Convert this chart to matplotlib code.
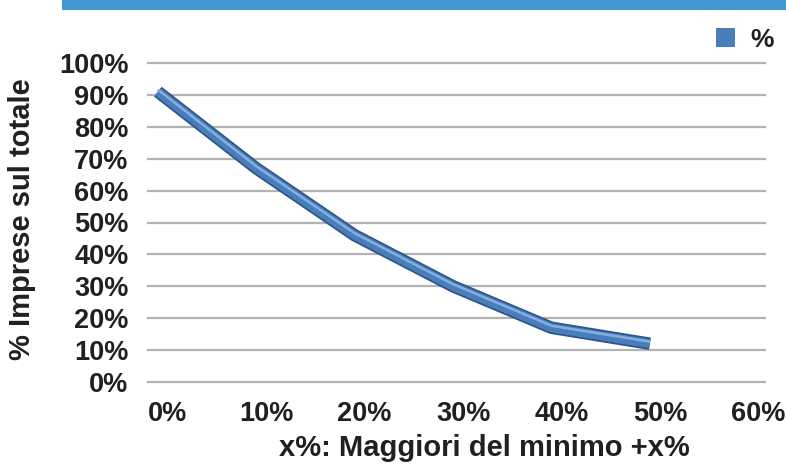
import matplotlib
matplotlib.use("Agg")
import matplotlib.pyplot as plt
import matplotlib.patheffects as pe
from matplotlib.patches import Patch, Rectangle
from matplotlib.transforms import ScaledTranslation

# Share of firms paying more than the minimum wage + x%
x_pct = [0, 10, 20, 30, 40, 50]
share_pct = [91, 67, 46, 30, 17, 12]
x_ticks = [0, 10, 20, 30, 40, 50, 60]
y_ticks = [0, 10, 20, 30, 40, 50, 60, 70, 80, 90, 100]
series_name = "%"

TEXT = "#231f20"
LINE = "#4a7ebb"
GRID = "#b3b3b3"

plt.rcParams["font.family"] = ["Liberation Sans", "DejaVu Sans"]
plt.rcParams["font.weight"] = "bold"

fig = plt.figure(figsize=(7.86, 4.74), dpi=100)

# Blue header band
fig.patches.append(Rectangle((62 / 786, 1 - 10 / 474), 1, 10 / 474,
                             transform=fig.transFigure, facecolor="#4295d1",
                             edgecolor="none", zorder=0))

ax = fig.add_axes([148 / 786, (474 - 382) / 474, 617 / 786, 319 / 474])
ax.set_xlim(-1.0, 61.7)
ax.set_ylim(0, 100)

for s in ax.spines.values():
    s.set_visible(False)

ax.set_yticks(y_ticks)
ax.set_yticklabels([f"{v}%" for v in y_ticks])
ax.set_xticks(x_ticks)
ax.set_xticklabels([f"{v}%" for v in x_ticks])
ax.tick_params(axis="both", length=0, labelsize=19.5, labelcolor=TEXT)
ax.tick_params(axis="y", pad=14)
ax.tick_params(axis="x", pad=14)
for lbl in ax.get_xticklabels():
    lbl.set_transform(lbl.get_transform() + ScaledTranslation(0.10, 0, fig.dpi_scale_trans))

ax.yaxis.grid(True, color=GRID, linewidth=1.6, clip_on=False)
ax.set_axisbelow(True)
for gl in ax.get_ygridlines():
    gl.set_clip_on(False)

# Ribbon-like line with darker rim and light highlight
ax.plot(x_pct, share_pct, color=LINE, linewidth=6.5, solid_capstyle="butt",
        solid_joinstyle="round", clip_on=False, zorder=3,
        path_effects=[pe.Stroke(linewidth=9, foreground="#2b5688"),
                      pe.Normal(),
                      pe.Stroke(linewidth=1.8, foreground="#86aee0", offset=(0, 1.5))])

fig.text(22 / 786, 1 - 219 / 474, "% Imprese sul totale", rotation=90,
         ha="center", va="center", fontsize=21, color=TEXT, fontweight="bold")
fig.text(484 / 786, 1 - 448 / 474, "x%: Maggiori del minimo +x%",
         ha="center", va="center", fontsize=21, color=TEXT, fontweight="bold")

fig.legend(handles=[Patch(facecolor=LINE, edgecolor="none", label=series_name)],
           loc="upper right", bbox_to_anchor=(1.005, 0.975), frameon=False,
           fontsize=19, handlelength=0.7, handleheight=0.7, handletextpad=0.6,
           labelcolor=TEXT, borderpad=0.1)

fig.savefig("out.png", dpi=100)
